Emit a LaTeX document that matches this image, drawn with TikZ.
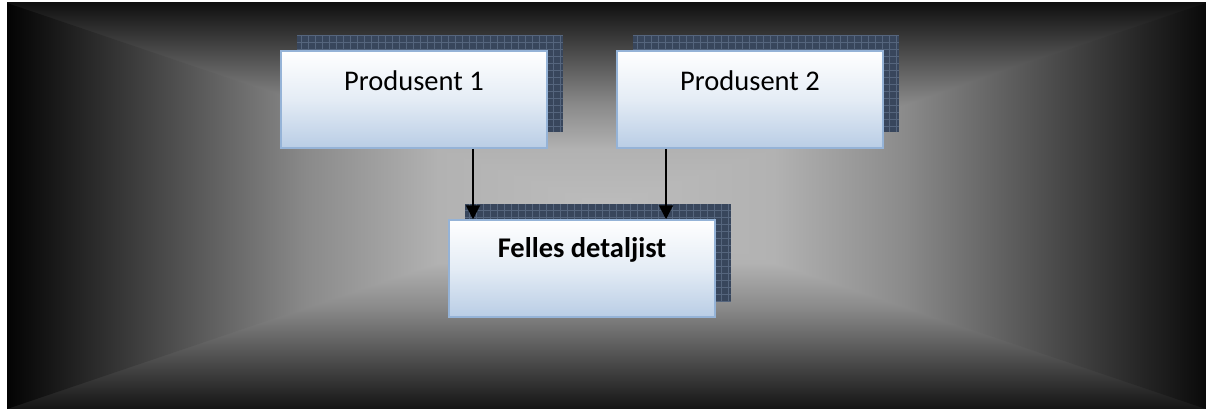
\documentclass[tikz,border=0pt]{standalone}
\usepackage{fontspec}
\setmainfont{Carlito}
\usetikzlibrary{arrows.meta}
\definecolor{bgmid}{HTML}{BCBCBC}
\definecolor{bgseventy}{HTML}{B2B2B2}
\definecolor{bghalf}{HTML}{8A8A8A}
\definecolor{edgetop}{HTML}{101010}
\definecolor{edgebot}{HTML}{141414}
\definecolor{edgeleft}{HTML}{030303}
\definecolor{edgeright}{HTML}{0A0A0A}
\definecolor{boxblue}{HTML}{B9CDE5}
\definecolor{boxmid}{HTML}{E4ECF5}
\definecolor{boxline}{HTML}{95B3D7}
\definecolor{shadowfill}{HTML}{38465C}
\definecolor{shadowgrid}{HTML}{55657D}
\pgfdeclareverticalshading{bgtopshade}{100bp}{color(0bp)=(bgmid); color(25bp)=(bgmid); color(39bp)=(bgseventy); color(50bp)=(bghalf); color(75bp)=(edgetop); color(100bp)=(edgetop)}
\pgfdeclareverticalshading{bgbotshade}{100bp}{color(0bp)=(edgebot); color(25bp)=(edgebot); color(50bp)=(bghalf); color(61bp)=(bgseventy); color(75bp)=(bgmid); color(100bp)=(bgmid)}
\pgfdeclarehorizontalshading{bgleftshade}{100bp}{color(0bp)=(edgeleft); color(25bp)=(edgeleft); color(50bp)=(bghalf); color(61bp)=(bgseventy); color(75bp)=(bgmid); color(100bp)=(bgmid)}
\pgfdeclarehorizontalshading{bgrightshade}{100bp}{color(0bp)=(bgmid); color(25bp)=(bgmid); color(39bp)=(bgseventy); color(50bp)=(bghalf); color(75bp)=(edgeright); color(100bp)=(edgeright)}
\tikzset{
  boxnode/.style={rectangle, minimum width=266pt, minimum height=97pt, inner sep=0pt,
    draw=boxline, line width=1.5pt, top color=white, bottom color=boxblue, middle color=boxmid},
  shadownode/.style={rectangle, minimum width=266pt, minimum height=97pt, inner sep=0pt,
    fill=shadowfill},
  labeltext/.style={anchor=base, inner sep=0pt, font=\fontsize{28.5}{34}\selectfont},
  arr/.style={line width=2pt, -{Triangle[width=14pt,length=14pt]}}
}
\begin{document}
\begin{tikzpicture}[x=1pt,y=-1pt]
\useasboundingbox (0,0) rectangle (1206,409);
\fill[white] (0,0) rectangle (1206,409);
% background rectangular gradient (centre point)
\coordinate (c) at (606,206);
\shade[shading=bgtopshade] (7,3) rectangle (1206,206.5);
\shade[shading=bgbotshade] (7,205.5) rectangle (1206,409);
\shade[shading=bgleftshade] (7,3) -- (c) -- (7,409) -- cycle;
\shade[shading=bgrightshade] (1206,3) -- (c) -- (1206,409) -- cycle;
% shadows
\node[shadownode] (s1) at (430,83.5) {};
\node[shadownode] (s2) at (766,83.5) {};
\node[shadownode] (s3) at (598,252.5) {};
\foreach \s in {s1,s2,s3}{
  \begin{scope}
    \clip (\s.south west) rectangle (\s.north east);
    \draw[shadowgrid, line width=0.6pt, step=7pt] (\s.south west) grid (\s.north east);
  \end{scope}
}
% boxes
\node[boxnode] (b1) at (414,99.5) {};
\node[boxnode] (b2) at (750,99.5) {};
\node[boxnode] (b3) at (582,268.5) {};
\node[labeltext] (t1) at ([yshift=-40pt]b1.north) {Produsent 1};
\node[labeltext] (t2) at ([yshift=-40pt]b2.north) {Produsent 2};
\node[labeltext, font=\fontsize{28.5}{34}\selectfont\bfseries] (t3) at ([yshift=-38pt]b3.north) {Felles detaljist};
% arrows
\draw[arr] ([xshift=59pt]b1.south) -- ([xshift=59pt]b1.south |- b3.north);
\draw[arr] ([xshift=-84pt]b2.south) -- ([xshift=-84pt]b2.south |- b3.north);
\end{tikzpicture}
\end{document}
